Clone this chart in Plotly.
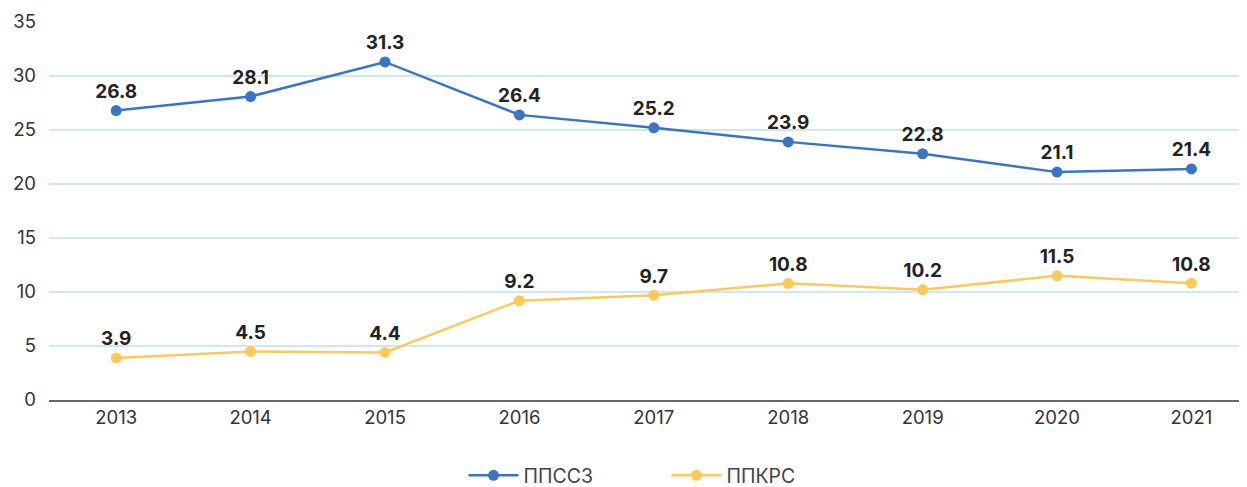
import plotly.graph_objects as go

years = ['2013', '2014', '2015', '2016', '2017', '2018', '2019', '2020', '2021']
ppssz = [26.8, 28.1, 31.3, 26.4, 25.2, 23.9, 22.8, 21.1, 21.4]
ppkrs = [3.9, 4.5, 4.4, 9.2, 9.7, 10.8, 10.2, 11.5, 10.8]

label_font = dict(size=19, color='#222222', family='Inter', weight='bold')

fig = go.Figure()
fig.add_trace(go.Scatter(
    x=years, y=ppssz, name='ППССЗ', mode='lines+markers+text',
    line=dict(color='#3a75c4', width=2.5), marker=dict(size=11, color='#3a75c4'),
    text=[f'{v:.1f}' for v in ppssz], textposition='top center',
    textfont=label_font,
))
fig.add_trace(go.Scatter(
    x=years, y=ppkrs, name='ППКРС', mode='lines+markers+text',
    line=dict(color='#ffc95a', width=2.5), marker=dict(size=11, color='#ffc95a'),
    text=[f'{v:.1f}' for v in ppkrs], textposition='top center',
    textfont=label_font,
))

# the page body adds an 8px offset, so the margins are 8px smaller
fig.update_layout(
    width=1247, height=487,
    margin=dict(l=41, r=0, t=14, b=95, autoexpand=False),
    plot_bgcolor='white', paper_bgcolor='white',
    font=dict(family='Inter', size=18, color='#333333'),
    showlegend=True,
    legend=dict(orientation='h', x=0.512, xanchor='center', y=-0.2, yanchor='middle',
                font=dict(size=19.5, color='#444444'), itemwidth=50,
                entrywidth=138),
    xaxis=dict(range=[-0.5, 8.473], showline=True, linecolor='#666666', linewidth=2,
               showgrid=False, ticks='', automargin=False,
               tickfont=dict(size=18.5, color='#333333')),
    yaxis=dict(range=[0, 35], dtick=5, showgrid=True, gridcolor='#cde8f3', gridwidth=1.5,
               zeroline=False, ticks='', ticklabelstandoff=12, automargin=False,
               tickfont=dict(size=18.5, color='#333333')),
)

fig.write_html("out.html")
